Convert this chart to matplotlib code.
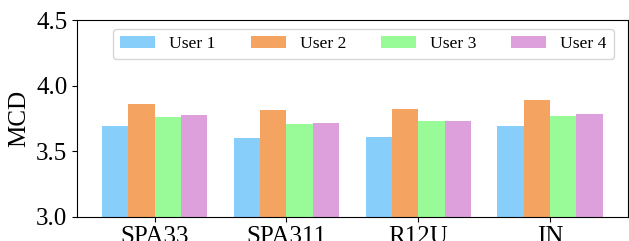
import numpy as np
import matplotlib.pyplot as plt

plt.rcParams['font.family'] = 'Liberation Serif'

# MCD per dataset for each user
datasets = ['SPA33', 'SPA311', 'R12U', 'IN']
users = ['User 1', 'User 2', 'User 3', 'User 4']
user1 = [3.69, 3.60, 3.61, 3.69]
user2 = [3.86, 3.815, 3.82, 3.89]
user3 = [3.76, 3.71, 3.73, 3.77]
user4 = [3.775, 3.715, 3.73, 3.785]
colors = ['lightskyblue', 'sandybrown', 'palegreen', 'plum']

fig = plt.figure(figsize=(6.29, 2.41), dpi=100)
ax = fig.add_axes([0.1224, 0.1008, 0.8756, 0.8152])

x = np.arange(len(datasets))
width = 0.2
for i, (vals, name) in enumerate(zip([user1, user2, user3, user4], users)):
    ax.bar(x + (i - 1.5) * width, vals, width, color=colors[i], label=name)

ax.set_ylim(3.0, 4.5)
ax.set_yticks([3.0, 3.5, 4.0, 4.5])
ax.set_xticks(x)
ax.set_xticklabels(datasets, fontsize=18)
ax.tick_params(axis='y', labelsize=18)
ax.set_ylabel('MCD', fontsize=18)
ax.legend(loc='upper right', ncol=4, fontsize=12.6, borderaxespad=0,
          bbox_to_anchor=(0.9746, 0.9557))

plt.savefig('out.png', dpi=100)
